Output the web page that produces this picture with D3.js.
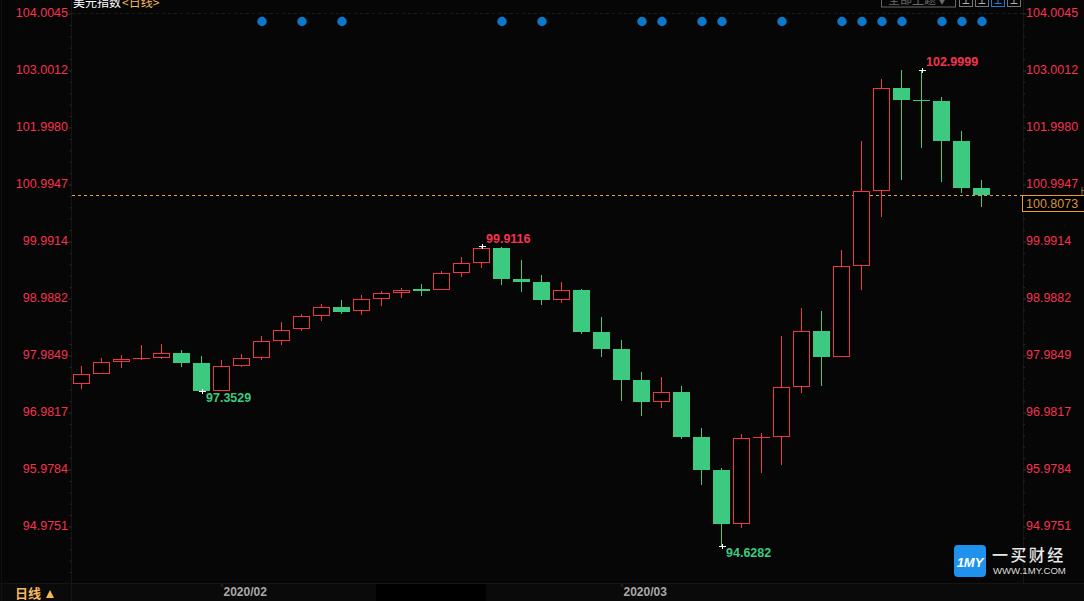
<!DOCTYPE html>
<html><head><meta charset="utf-8">
<style>html,body{margin:0;padding:0;background:#060606;overflow:hidden}svg{display:block}
text{font-family:"Liberation Sans",Arial,sans-serif}
.cjk{font-family:"Noto Sans CJK SC","Liberation Sans",sans-serif}</style>
<script src="https://cdn.jsdelivr.net/npm/d3@7/dist/d3.min.js"></script>
</head><body><svg id="c" width="1084" height="601"></svg>
<script>
const opens=[97.4802,97.6562,97.8674,97.9237,97.9378,98.0205,97.8445,97.3570,97.7970,97.9378,98.2317,98.4376,98.6770,98.8248,98.7544,98.9762,99.0818,99.1469,99.1346,99.4338,99.6098,99.8685,99.3229,99.2701,98.9586,99.1293,98.3901,98.0909,97.5453,97.1634,97.3341,96.5421,95.9613,95.0162,96.5368,96.5439,97.4274,98.4077,97.9554,99.5570,100.8734,102.6845,102.4680,102.4557,101.7517,100.9245];
const highs=[97.7917,97.9325,97.9853,98.1613,98.1789,98.0733,97.9677,97.8973,98.0029,98.3197,98.5661,98.7069,98.8829,98.9533,99.0413,99.1117,99.1645,99.2349,99.4637,99.7101,99.9116,99.8861,99.6573,99.3933,99.2701,99.1469,98.6541,98.2493,97.6861,97.5981,97.4397,96.7005,95.9965,96.5949,96.6125,98.3197,98.8125,98.7597,99.8333,101.7517,102.8429,102.9999,102.9999,102.5261,101.9277,101.0653];
const lows=[97.3869,97.6509,97.7565,97.8973,97.9149,97.7741,97.3529,97.3529,97.7741,97.8973,98.1613,98.4077,98.5890,98.7069,98.6893,98.8477,98.9885,99.0237,99.1293,99.3581,99.5165,99.2173,99.0941,98.8653,98.9005,98.3549,97.9501,97.1757,96.9117,97.0525,96.5069,95.6973,94.6282,94.9405,95.9085,96.0493,97.3165,97.4397,97.9501,99.1293,100.4141,101.0653,101.6285,101.0301,100.8365,100.5901];
const closes=[97.6456,97.8568,97.9096,97.9237,98.0152,97.8445,97.3517,97.7864,97.9272,98.2264,98.4200,98.6664,98.8248,98.7474,98.9656,99.0712,99.1240,99.1117,99.4232,99.5992,99.8632,99.3229,99.2701,98.9533,99.1240,98.3901,98.0909,97.5453,97.1581,97.3288,96.5421,95.9613,95.0109,96.5192,96.5368,97.4168,98.4024,97.9501,99.5517,100.8664,102.6792,102.4733,102.4680,101.7517,100.9245,100.8073];
const directions=[1,1,1,1,1,-1,-1,1,1,1,1,1,1,-1,1,1,1,-1,1,1,1,-1,-1,-1,1,-1,-1,-1,-1,1,-1,-1,-1,1,1,1,1,-1,1,1,1,-1,-1,-1,-1,-1];
const signalIndexes=[9,11,13,21,23,28,29,31,32,35,38,39,40,41,43,44,45];
const priceTicks=["104.0045","103.0012","101.9980","100.9947","99.9914","98.9882","97.9849","96.9817","95.9784","94.9751"];
const monthTickIndexes=[7,27];
const monthLabels=["2020/02","2020/03"];
const extremes=[{i:42,v:102.9999,t:"102.9999",up:1,dy:-8},{i:20,v:99.9116,t:"99.9116",up:1,dy:-7},{i:6,v:97.3529,t:"97.3529",up:0,dy:7},{i:32,v:94.6282,t:"94.6282",up:0,dy:7.5}];
const lastPrice=100.8073;

const RED="#f5334f",GREEN="#3bca80",BG="#060606",GRID="#151515",ORANGE="#ee9a3a";
const svg=d3.select("#c");
const x=d3.scaleLinear().domain([0,45]).range([81.5,981.5]);
const y=d3.scaleLinear().domain([+priceTicks[9],+priceTicks[0]]).range([526,13]);
const HW=8;
svg.append("rect").attr("width",1084).attr("height",601).attr("fill",BG);

// frame
svg.append("rect").attr("x",0).attr("y",583).attr("width",1084).attr("height",18).attr("fill","#0a0a0a");
svg.append("rect").attr("x",376).attr("y",584).attr("width",110).attr("height",17).attr("fill","#000");
svg.append("line").attr("x1",0).attr("x2",1084).attr("y1",583.5).attr("y2",583.5).attr("stroke",GRID);
svg.append("line").attr("x1",1.5).attr("x2",1.5).attr("y1",0).attr("y2",601).attr("stroke","#111114");
svg.append("line").attr("x1",71.5).attr("x2",71.5).attr("y1",0).attr("y2",601).attr("stroke",GRID);
svg.append("line").attr("x1",1023.5).attr("x2",1023.5).attr("y1",0).attr("y2",583).attr("stroke",GRID);
svg.append("line").attr("x1",72).attr("x2",1023).attr("y1",13.5).attr("y2",13.5).attr("stroke","#1c1c1c").attr("stroke-dasharray","3,3");

// axes
const minorVals=[];
priceTicks.forEach((t,k)=>{for(let j=1;j<5;j++)minorVals.push(+t-j*(+priceTicks[0]-+priceTicks[1])/5)});
function drawAxis(gen,xp,labelX,anchor){
  const g=svg.append("g").attr("transform",`translate(${xp},0.5)`).call(gen.tickValues(priceTicks.map(Number)).tickFormat((d,i)=>priceTicks[i]).tickSize(3));
  g.select(".domain").remove();
  g.selectAll(".tick line").attr("stroke","#333");
  g.selectAll(".tick text").attr("fill",RED).attr("font-size","12.5px").attr("text-anchor",anchor).attr("x",labelX).attr("dy",0).attr("y",0).attr("dominant-baseline","middle");
  return g;
}
drawAxis(d3.axisLeft(y),71.5,-3.5,"end");
drawAxis(d3.axisRight(y),1023,3,"start");
const minorsL=d3.axisLeft(y).tickValues(minorVals.filter(v=>v>94)).tickSize(2).tickFormat("");
const mL=svg.append("g").attr("transform","translate(71.5,0.5)").call(minorsL);mL.select(".domain").remove();mL.selectAll("line").attr("stroke","#2a2a2a");
const minorsR=d3.axisRight(y).tickValues(minorVals.filter(v=>v>94)).tickSize(2).tickFormat("");
const mR=svg.append("g").attr("transform","translate(1023,0.5)").call(minorsR);mR.select(".domain").remove();mR.selectAll("line").attr("stroke","#2a2a2a");

// month axis
const monthAxis=d3.axisBottom(x).tickValues(monthTickIndexes).tickSize(3).tickFormat((d,i)=>monthLabels[i]);
const mg=svg.append("g").attr("transform","translate(0,584)").call(monthAxis);
mg.select(".domain").remove();
mg.selectAll(".tick line").attr("stroke","#333");
mg.selectAll(".tick text").attr("fill","#a8a8a8").attr("font-size","12px").attr("font-weight","bold").attr("text-anchor","start").attr("x",1.5).attr("y",3).attr("dy","0.71em");

// last price line (under candles)
const lastY=Math.round(y(lastPrice))+.5;
svg.append("line").attr("x1",72).attr("x2",1023).attr("y1",lastY).attr("y2",lastY).attr("stroke",ORANGE).attr("stroke-dasharray","3,3");

// signal dots
svg.append("g").selectAll("circle").data(signalIndexes).join("circle")
  .attr("cx",d=>x(d)+.5).attr("cy",21.5).attr("r",4.7).attr("fill","#0c78c9");

// candles
const idx=d3.range(opens.length);
const g=svg.append("g");
g.selectAll("line.w").data(idx).join("line").attr("class","w")
  .attr("x1",d=>x(d)).attr("x2",d=>x(d))
  .attr("y1",d=>Math.round(y(highs[d]))).attr("y2",d=>Math.round(y(lows[d])))
  .attr("stroke",d=>directions[d]>0?RED:GREEN);
idx.forEach(i=>{
  const a=y(Math.max(opens[i],closes[i])),b=y(Math.min(opens[i],closes[i]));
  if(Math.abs(b-a)<0.6){
    const yy=Math.round(a)+.5;
    g.append("line").attr("x1",x(i)-HW-.5).attr("x2",x(i)+HW+.5).attr("y1",yy).attr("y2",yy).attr("stroke",directions[i]>0?RED:GREEN);
  }else if(directions[i]>0){
    const t=Math.round(a)+.5,bb=Math.round(b)-.5;
    g.append("rect").attr("x",x(i)-HW).attr("y",t).attr("width",HW*2).attr("height",Math.max(bb-t,1)).attr("fill","#000").attr("stroke",RED);
  }else{
    const t=Math.round(a),bb=Math.round(b);
    g.append("rect").attr("x",x(i)-HW-.5).attr("y",t).attr("width",HW*2+1).attr("height",bb-t).attr("fill",GREEN);
  }
});

// extremes
extremes.forEach(e=>{
  const cx=x(e.i)+1,cy=Math.round(y(e.v))+.5;
  svg.append("path").attr("d",`M${cx-3.5},${cy}H${cx+3.5}M${cx},${cy-2.5}V${cy+2.5}`).attr("stroke","#fff").attr("fill","none");
  svg.append("text").attr("x",x(e.i)+4.5).attr("y",cy+e.dy).attr("dominant-baseline","middle")
    .attr("fill",e.up?RED:GREEN).attr("font-size","12.5px").attr("font-weight","bold").text(e.t);
});

// last price box
svg.append("rect").attr("x",1022.5).attr("y",lastY).attr("width",70).attr("height",16).attr("fill","#000").attr("stroke",ORANGE);
svg.append("text").attr("x",1026).attr("y",lastY+9).attr("dominant-baseline","middle").attr("fill","#d9953a").attr("font-size","12.5px").text(lastPrice.toFixed(4));
svg.append("path").attr("d","M1081,190.5H1084M1082,187V195").attr("stroke","#c08a3a").attr("fill","none").attr("opacity",.7);

// title (cut by window top)
svg.append("text").attr("class","cjk").attr("x",73).attr("y",7).attr("font-size","12px").attr("fill","#fff").text("美元指数");
svg.append("text").attr("class","cjk").attr("x",122).attr("y",7).attr("font-size","12px").attr("fill","#f5b95a").text("<日线>");

// top-right buttons
svg.append("rect").attr("x",881.5).attr("y",-5).attr("width",74).attr("height",12).attr("fill","none").attr("stroke","#666");
svg.append("text").attr("class","cjk").attr("x",888).attr("y",4).attr("font-size","12px").attr("fill","#6a6a6a").text("全部主题▼");
[[959.5,"#777"],[975.5,"#777"],[991.5,"#1a7fd0"],[1007.5,"#777"]].forEach(([bx,c])=>{
  svg.append("rect").attr("x",bx).attr("y",-5).attr("width",13).attr("height",11.5).attr("fill","none").attr("stroke",c);
  svg.append("path").attr("d",`M${bx+3},3.5H${bx+10}M${bx+6.5},0V3.5`).attr("stroke",c==="#777"?"#aaa":c).attr("fill","none");
});

// bottom-left period
svg.append("text").attr("class","cjk").attr("x",15).attr("y",598).attr("font-size","13px").attr("font-weight","bold").attr("fill","#f5b95a").text("日线");
svg.append("path").attr("d","M46,598L50,590L54,598Z").attr("fill","#f5b95a");

// watermark
svg.append("rect").attr("x",954).attr("y",545).attr("width",32).attr("height",32).attr("rx",4).attr("fill","#1f92ee");
svg.append("text").attr("x",970).attr("y",567).attr("text-anchor","middle").attr("font-size","13px").attr("font-weight","bold").attr("font-style","italic").attr("fill","#fff").text("1MY");
svg.append("text").attr("class","cjk").attr("x",992).attr("y",561).attr("font-size","16px").attr("font-weight","500").attr("letter-spacing","2.4px").attr("fill","#e8e8e8").text("一买财经");
svg.append("text").attr("x",993).attr("y",574).attr("font-size","9.6px").attr("fill","#dcdcdc").text("WWW.1MY.COM");
</script></body></html>
